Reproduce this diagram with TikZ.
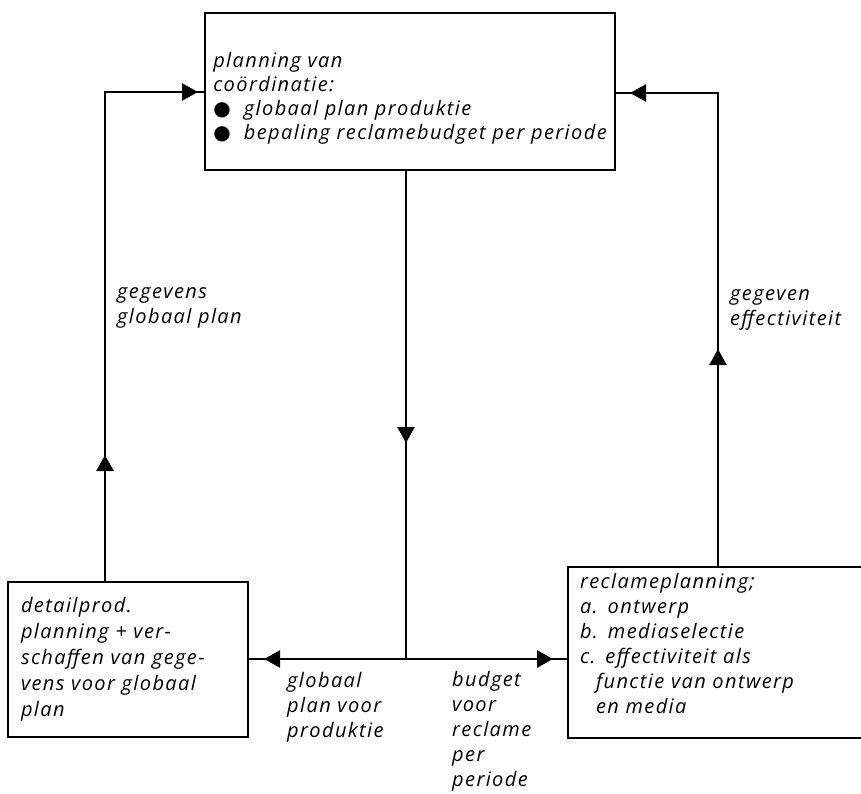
\documentclass[tikz,border=0pt]{standalone}
\usepackage{fontspec}
\setmainfont{Open Sans}[LetterSpace=7]
\newfontfamily\sym{DejaVu Sans}
\usetikzlibrary{arrows.meta}
\begin{document}
\begin{tikzpicture}[x=1pt,y=-1pt,
  box/.style={draw, line width=2.2pt, inner sep=0pt, font=\itshape\fontsize{20}{25}\selectfont},
  conn/.style={line width=2.2pt},
  tip/.style={-{Triangle[length=16pt,width=17pt]}, line width=2.2pt},
  lbl/.style={font=\itshape\fontsize{20}{25}\selectfont, align=left, inner sep=0pt, anchor=base west}]
\useasboundingbox (0,0) rectangle (861,794);
% boxes
\node[box, minimum width=410pt, minimum height=157pt, align=left, font=\itshape\fontsize{20}{24}\selectfont] (top) at (410,91.5)
  {\rule{0pt}{29pt}planning van\\co\"ordinatie:\\{\sym ●}\ \ globaal plan produktie\\{\sym ●}\ \ bepaling reclamebudget per periode};
\node[box, minimum width=240pt, minimum height=155pt, text width=214pt, inner xsep=13pt, align=left, font=\itshape\fontsize{20}{26}\selectfont] (lbox) at (128,659.5)
  {detailprod.\\planning + ver-\\schaffen van gege-\\vens voor globaal\\plan};
\node[box, minimum width=296pt, minimum height=171pt, text width=272pt, inner xsep=12pt, align=left] (rbox) at (716,652.5)
  {reclameplanning;\\a. ontwerp\\b. mediaselectie\\c. effectiviteit als\\\hspace*{16pt}functie van ontwerp\\\hspace*{16pt}en media\\[-6pt]\mbox{}};
% connectors
\coordinate (J) at (406,659);
\coordinate (LT) at (105,92);
\coordinate (RT) at (718,93);
\draw[conn] (top.south -| J) -- (J);
\draw[conn] (lbox.east |- J) -- (rbox.west |- J);
\draw[conn] (LT |- lbox.north) -- (LT) -- (LT -| top.west);
\draw[conn] (RT |- rbox.north) -- (RT) -- (RT -| top.east);
% arrow heads
\draw[tip] (180,92) -- (198,92);
\draw[tip] (105,475) -- (105,455);
\draw[tip] (650,93) -- (630,93);
\draw[tip] (718,370) -- (718,349);
\draw[tip] (406,420) -- (406,443);
\draw[tip] (280,659) -- (264,659);
\draw[tip] (535,659) -- (553,659);
% labels
\node[lbl] (l1) at (117,323) {gegevens\\globaal plan};
\node[lbl] (l2) at (730,325) {gegeven\\effectiviteit};
\node[lbl] (l3) at (287,737) {globaal\\plan voor\\produktie};
\node[lbl] (l4) at (452,786) {budget\\voor\\reclame\\per\\periode};
\end{tikzpicture}
\end{document}
